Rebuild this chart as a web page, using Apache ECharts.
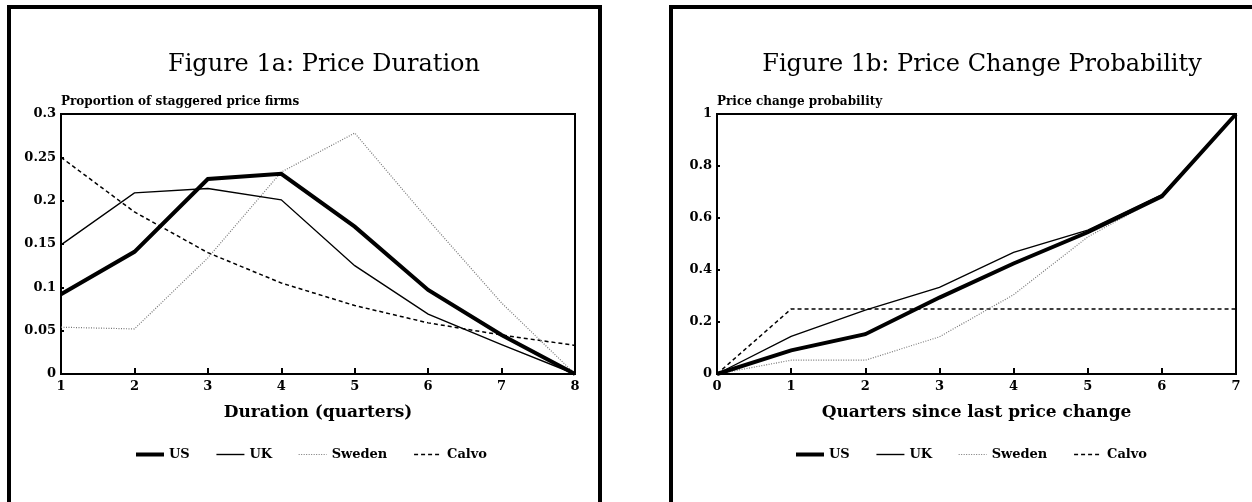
<!DOCTYPE html>
<html>
<head>
<meta charset="utf-8">
<script src="https://cdn.jsdelivr.net/npm/echarts@6/dist/echarts.min.js"></script>
<style>
html,body{margin:0;padding:0;background:#fff;}
#c{width:1252px;height:502px;}
</style>
</head>
<body>
<div id="c"></div>
<script>
// ---- Figure 1a data ----
var durationQuarters = [1, 2, 3, 4, 5, 6, 7, 8];
var usDuration     = [0.092, 0.141, 0.225, 0.231, 0.170, 0.097, 0.045, 0];
var ukDuration     = [0.149, 0.209, 0.214, 0.201, 0.125, 0.069, 0.034, 0];
var swedenDuration = [0.054, 0.052, 0.134, 0.233, 0.278, 0.178, 0.082, 0];
var calvoDuration  = [0.250, 0.187, 0.140, 0.105, 0.079, 0.059, 0.045, 0.033];

// ---- Figure 1b data ----
var quartersSince = [0, 1, 2, 3, 4, 5, 6, 7];
var usHazard     = [0, 0.091, 0.153, 0.294, 0.425, 0.545, 0.683, 1];
var ukHazard     = [0, 0.145, 0.246, 0.333, 0.468, 0.553, 0.690, 1];
var swedenHazard = [0, 0.053, 0.053, 0.143, 0.305, 0.527, 0.685, 1];
var calvoHazard  = [0, 0.25, 0.25, 0.25, 0.25, 0.25, 0.25, 0.25];

var seriesNames = ['US', 'UK', 'Sweden', 'Calvo'];

function pairs(xs, ys) { return xs.map(function (x, i) { return [x, ys[i]]; }); }

var styles = {
  'US':     { color: '#000', width: 4,   type: 'solid' },
  'UK':     { color: '#000', width: 1.4, type: 'solid' },
  'Sweden': { color: '#777', width: 1.2, type: [1, 1.5] },
  'Calvo':  { color: '#000', width: 1.5, type: [4, 3] }
};

function mkSeries(name, data, idx) {
  var s = styles[name];
  return {
    name: name, type: 'line', xAxisIndex: idx, yAxisIndex: idx,
    data: data, symbol: 'none', animation: false, silent: true,
    lineStyle: { color: s.color, width: s.width, type: s.type, join: 'miter', cap: 'butt' },
    itemStyle: { color: s.color },
    z: name === 'US' ? 5 : 3
  };
}

var serifBold = { fontFamily: 'DejaVu Serif', fontWeight: 'bold', color: '#000' };

function xAxisCfg(idx, min, max, name) {
  return {
    type: 'value', gridIndex: idx, min: min, max: max, interval: 1,
    name: name, nameLocation: 'middle', nameGap: 30,
    nameTextStyle: Object.assign({ fontSize: 17 }, serifBold),
    axisLine: { show: true, lineStyle: { color: '#000', width: 2 } },
    axisTick: { show: true, inside: true, length: 6, lineStyle: { color: '#000', width: 2 } },
    axisLabel: Object.assign({ fontSize: 13, margin: 6 }, serifBold),
    splitLine: { show: false }
  };
}
function yAxisCfg(idx, min, max, interval, name) {
  return {
    type: 'value', gridIndex: idx, min: min, max: max, interval: interval,
    name: name, nameLocation: 'end', nameGap: 6,
    nameTextStyle: Object.assign({ fontSize: 12, align: 'left', verticalAlign: 'bottom' }, serifBold),
    axisLine: { show: true, lineStyle: { color: '#000', width: 2 } },
    axisTick: { show: true, inside: true, length: 3, lineStyle: { color: '#000', width: 2 } },
    axisLabel: Object.assign({ fontSize: 13, margin: 5 }, serifBold),
    splitLine: { show: false }
  };
}

function legendCfg(left) {
  return {
    left: left, top: 448, padding: 0, itemWidth: 28, itemHeight: 10, itemGap: 26,
    selectedMode: false,
    textStyle: Object.assign({ fontSize: 13 }, serifBold),
    data: seriesNames.map(function (n) {
      var s = styles[n];
      return {
        name: n,
        itemStyle: { opacity: 0, borderWidth: 0 },
        lineStyle: { color: s.color, width: s.width, type: s.type, opacity: 1 }
      };
    })
  };
}

var chart = echarts.init(document.getElementById('c'), null, { renderer: 'canvas' });
chart.setOption({
  backgroundColor: '#fff',
  animation: false,
  title: [
    { text: 'Figure 1a: Price Duration', left: 319, top: 48, textAlign: 'center',
      textStyle: { fontFamily: 'DejaVu Serif', fontWeight: 'normal', fontSize: 24, color: '#000' } },
    { text: 'Figure 1b: Price Change Probability', left: 977, top: 48, textAlign: 'center',
      textStyle: { fontFamily: 'DejaVu Serif', fontWeight: 'normal', fontSize: 24, color: '#000' } }
  ],
  grid: [
    { left: 61, top: 114, width: 514, height: 260, show: true, borderColor: '#000', borderWidth: 2, containLabel: false },
    { left: 717, top: 114, width: 519, height: 260, show: true, borderColor: '#000', borderWidth: 2, containLabel: false }
  ],
  xAxis: [
    xAxisCfg(0, 1, 8, 'Duration (quarters)'),
    xAxisCfg(1, 0, 7, 'Quarters since last price change')
  ],
  yAxis: [
    yAxisCfg(0, 0, 0.3, 0.05, 'Proportion of staggered price firms'),
    yAxisCfg(1, 0, 1, 0.2, 'Price change probability')
  ],
  legend: [legendCfg(134), legendCfg(794)],
  graphic: [
    { type: 'rect', shape: { x: 9, y: 7, width: 591, height: 620 },
      style: { fill: 'none', stroke: '#000', lineWidth: 4 }, silent: true },
    { type: 'rect', shape: { x: 671, y: 7, width: 700, height: 620 },
      style: { fill: 'none', stroke: '#000', lineWidth: 4 }, silent: true }
  ],
  series: [
    mkSeries('Calvo', pairs(durationQuarters, calvoDuration), 0),
    mkSeries('Sweden', pairs(durationQuarters, swedenDuration), 0),
    mkSeries('UK', pairs(durationQuarters, ukDuration), 0),
    mkSeries('US', pairs(durationQuarters, usDuration), 0),
    mkSeries('Calvo', pairs(quartersSince, calvoHazard), 1),
    mkSeries('Sweden', pairs(quartersSince, swedenHazard), 1),
    mkSeries('UK', pairs(quartersSince, ukHazard), 1),
    mkSeries('US', pairs(quartersSince, usHazard), 1)
  ]
});
</script>
</body>
</html>
